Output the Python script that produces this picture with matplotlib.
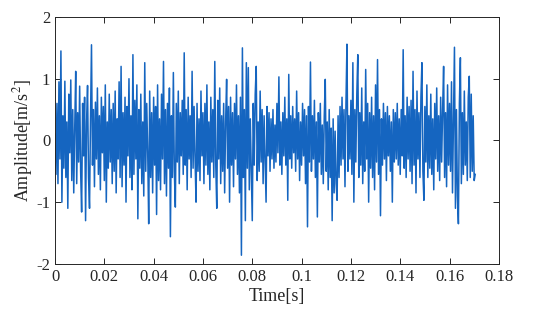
## Vibration signal in the time domain
import numpy as np
import matplotlib.pyplot as plt

plt.rcParams['font.family'] = ['Liberation Serif', 'DejaVu Serif']
plt.rcParams['mathtext.fontset'] = 'stix'
plt.rcParams['axes.unicode_minus'] = False

# Sample rate of the values [Hz]
fs = 2500

# Acceleration values [m/s^2]
amp_a = [0.1, -0.55, 0.6, -0.7, 0.95, -0.3, 1.45, -1.0, 0.4, -0.45,
         0.96, -0.6, 0.3, -1.1, 0.75, -0.2, 0.98, -0.65, 0.5, -0.85,
         0.2, 1.12, -0.7, 0.45, -0.35, 0.88, -0.5, -1.16, 0.6, -0.25,
         0.7, -1.3, 0.3, 0.89, -0.6, -1.1, 0.35, 1.55, -0.4, 0.5,
         -0.75, 0.62, -0.3, 0.85, -0.55, 0.4, -0.8, 0.7, -0.2, 0.55,
         -0.65, 0.9, -1.0, 0.3, -0.45, 0.75, -0.35, 0.5, -0.7, 0.6,
         -0.5, 0.8, -0.85, 0.35, -0.3, 0.95, -0.6, 1.2, -0.75, 0.45,
         -0.4, 0.7, -1.0, 0.55, -0.25, 1.0, -0.6, 0.4, -0.8, 1.39,
         -0.55, 0.65, -0.3, 0.9, -1.27, 0.5, -0.45, 0.75, -0.7, 0.3,
         -0.9, 1.26, -0.5, 0.6, -0.2, -1.35, 0.8, -0.6, 0.45, -0.85,
         0.7, -0.4, 0.55, -1.2, 0.9, -0.65, 0.35, -0.8, 0.75, -0.3,
         1.28, -0.7, 0.5, -0.9, 0.6, -0.45, 0.85, -1.56, 0.4, -0.6,
         1.1, -0.5, -1.08, 0.6, -0.35, 0.8, -0.7, 0.45, -0.25, 0.65,
         -0.55, 1.42, -0.4, 0.5, -0.8, 0.7, -0.3, 0.4, -0.6, 1.12]

amp_b = [-0.45, 0.55, -0.3, -1.0, 0.6, -0.5, 0.35, -0.65, 0.8, -0.25,
         0.45, -0.7, 0.6, -0.4, 0.9, -0.55, 0.3, -0.8, 0.7, -0.35,
         0.5, -0.6, 1.28, -0.4, -1.1, 0.65, -0.3, 0.85, -0.7, 0.4,
         -0.5, 0.6, -0.85, 0.3, 0.99, -0.45, 0.55, -1.0, 0.7, -0.4,
         0.45, -0.75, 0.6, -0.3, 0.9, -0.55, 0.4, -0.85, 0.7, -1.86,
         1.5, -0.6, 0.5, -1.3, 1.26, -0.45, 1.18, -0.8, 0.35, -0.5,
         -1.3, 0.6, -0.4, 0.75, 1.2, -0.65, 0.3, -0.5, 0.8, -0.35,
         0.5, -0.7, 0.4, -0.3, -1.0, 0.55, -0.25, 0.45, -0.5, 0.35,
         -0.3, 0.5, -0.45, 0.25, -0.35, 0.6, -0.2, 1.03, -0.4, 0.3,
         -0.55, 0.45, -0.25, 0.7, -0.4, 0.35, -0.97, 1.07, -0.3, 0.4,
         -0.45, 0.55, -0.2, 0.35, -0.5, 0.8, -0.3, 0.45, -0.65, 0.3,
         -0.4, 0.6, -0.25, 0.5, -0.7, 0.4, -1.4, 0.55, -0.35, 1.27,
         -0.5, 0.4, -0.3, 0.65, -0.6, 0.3, -1.24, 0.45, -0.35, 0.6,
         -0.55, 0.25, -0.7, 0.4, 0.99, -0.5, 0.3, -0.8, 0.5, -0.6]

amp_c = [0.2, -1.3, 0.35, -0.85, 0.15, -0.7, -0.97, 0.4, -0.6, 0.55,
         -0.4, 0.7, -0.3, 0.5, -0.75, 0.6, 1.56, -0.5, 0.4, -0.3,
         0.65, -0.55, 1.26, -1.0, 0.5, -0.35, 0.75, 1.39, -0.6, 0.45,
         -0.4, 0.85, -0.7, 0.3, -0.5, 1.15, -0.3, 0.6, -1.0, 0.45,
         -0.45, 0.7, -0.6, 0.4, -0.8, 0.9, -0.35, 1.31, -0.55, 0.5,
         -1.22, 0.35, -0.4, 0.6, -0.3, 0.45, -0.65, 0.55, -0.25, 0.4,
         -0.5, 0.3, -1.0, 0.5, -0.35, 0.45, -0.3, 0.6, -0.4, 0.35,
         -0.55, 0.5, -0.25, 1.47, -0.45, 0.4, -0.6, 0.7, -0.3, 0.55,
         -0.5, 0.65, -0.7, 1.12, -0.4, 0.5, -0.85, 0.8, -0.3, 0.45,
         -0.6, 0.7, 1.26, -0.5, -0.97, 0.55, -0.35, 0.9, -0.6, 0.4,
         -0.45, 0.75, -0.55, 0.35, -0.8, 0.6, -0.3, 0.85, -0.5, 0.4,
         -0.65, 0.7, -0.35, 0.5, 1.2, -0.6, 0.45, -0.75, 0.9, -0.4,
         0.6, -0.5, 0.95, -0.85, 0.4, 1.51, -1.1, 0.5, -0.9, -1.35,
         0.6, 1.34, -0.7, 0.45, -0.55, 0.8, -0.4, 0.3, -0.65, 0.7,
         1.04, -0.6, 0.75, -0.5, 0.4, -0.65, -0.55]

amp = np.array(amp_a + amp_b + amp_c)
t = np.arange(np.size(amp)) / fs

## Figure
fig = plt.figure(figsize=(5.5, 3.21), dpi=100)
ax = fig.add_axes([0.1, 0.178, 0.807, 0.769])
ax.plot(t, amp, '-', color='#1565C0', linewidth=1.1)

ax.set_xlim(0, 0.18)
ax.set_ylim(-2, 2)
ax.set_xticks([0, 0.02, 0.04, 0.06, 0.08, 0.1, 0.12, 0.14, 0.16, 0.18])
ax.set_xticklabels(['0', '0.02', '0.04', '0.06', '0.08', '0.1',
                    '0.12', '0.14', '0.16', '0.18'])
ax.set_yticks([-2, -1, 0, 1, 2])
ax.set_yticklabels(['-2', '-1', '0', '1', '2'])
ax.tick_params(direction='in', top=True, right=True, length=4,
               width=0.7, labelsize=12, colors='#262626')
for s in ax.spines.values():
  s.set_linewidth(0.7)
  s.set_color('#262626')

ax.set_xlabel('Time[s]', fontsize=13, color='#262626', labelpad=2)
ax.set_ylabel(r'Amplitude[m/s$^2$]', fontsize=13, color='#262626',
              labelpad=1)

fig.savefig('out.png', dpi=100)
